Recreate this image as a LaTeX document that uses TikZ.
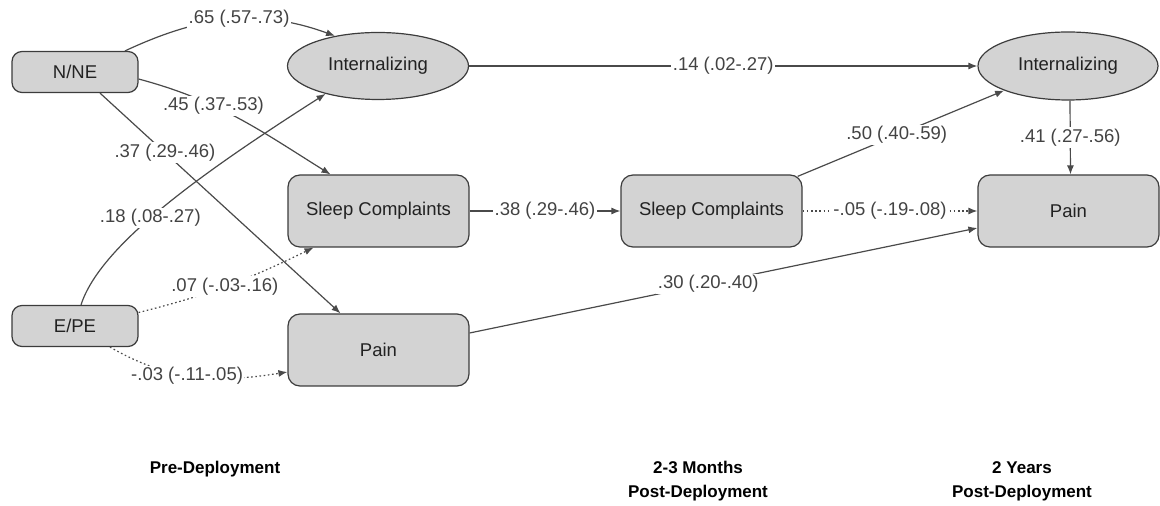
\documentclass[tikz,border=0pt]{standalone}
\usepackage{fontspec}
\setmainfont{Liberation Sans}
\usetikzlibrary{arrows.meta,shapes.geometric}
\definecolor{boxfill}{HTML}{D3D3D3}
\definecolor{boxline}{HTML}{3C3C3C}
\definecolor{edgecol}{HTML}{4A4A4A}
\definecolor{txt}{HTML}{222222}
\begin{document}
\begin{tikzpicture}[x=1pt,y=1pt,
  every node/.style={text=txt},
  smallbox/.style={draw=boxline,fill=boxfill,line width=1.2pt,rounded corners=10pt,minimum width=126pt,minimum height=41pt,inner sep=0pt,font=\fontsize{18.5}{22}\selectfont},
  bigbox/.style={draw=boxline,fill=boxfill,line width=1.2pt,rounded corners=12pt,minimum width=181pt,minimum height=72pt,inner sep=0pt,font=\fontsize{18.5}{22}\selectfont},
  latent/.style={ellipse,draw=boxline,fill=boxfill,line width=1.2pt,minimum width=181pt,minimum height=67pt,inner sep=0pt,font=\fontsize{18.5}{22}\selectfont},
  path/.style={draw=edgecol,line width=1.2pt,-{Latex[length=9pt,width=7pt]}},
  nspath/.style={path,dash pattern=on 1.6pt off 2.6pt},
  lab/.style={fill=white,inner sep=1.5pt,font=\fontsize{18.5}{22}\selectfont,text=txt!85!white},
  period/.style={font=\bfseries\fontsize{17}{24}\selectfont,align=center,text=black}
]
\useasboundingbox (0,0) rectangle (1160,506);
% nodes
\node[smallbox] (nne) at (75,434) {N/NE};
\node[smallbox] (epe) at (75,180) {E/PE};
\node[latent] (int1) at (378,440) {Internalizing};
\node[bigbox] (sl1) at (378.5,295) {Sleep Complaints};
\node[bigbox] (pain1) at (378.5,156) {Pain};
\node[bigbox] (sl2) at (711.5,295) {Sleep Complaints};
\node[latent, minimum width=180pt, minimum height=68pt] (int2) at (1068,440) {Internalizing};
\node[bigbox] (pain2) at (1068.5,295) {Pain};
% period labels
\node[period] (pre) at (215,37) {Pre-Deployment};
\node[period] (post1) at (698,25) {2-3 Months\\Post-Deployment};
\node[period] (post2) at (1022,25) {2 Years\\Post-Deployment};
% paths
\draw[path] ([xshift=50pt]nne.north) to[out=25,in=160] node[lab,pos=0.55] {.65 (.57-.73)} (int1.145);
\draw[path] ([yshift=-7pt]nne.east) to[out=-15,in=148] node[lab,pos=0.36] {.45 (.37-.53)} ([xshift=-48pt]sl1.north);
\draw[path] ([xshift=6pt]epe.north) .. controls +(19,59) and +(-127,-81) .. node[lab,pos=0.45] {.18 (.08-.27)} (int1.208);
\draw[path] ([xshift=25pt]nne.south) -- node[lab,pos=0.27] {.37 (.29-.46)} ([xshift=-38pt]pain1.north);
\draw[nspath] (epe.12) to[out=14,in=206] node[lab,pos=0.48] {.07 (-.03-.16)} ([xshift=-65pt]sl1.south);
\draw[nspath] ([xshift=35pt]epe.south) to[out=-30,in=189] node[lab,pos=0.45] {-.03 (-.11-.05)} ([yshift=-22pt]pain1.west);
\draw[path] (int1.east) -- node[lab] {.14 (.02-.27)} (int2.west);
\draw[path] (sl1.east) -- node[lab] {.38 (.29-.46)} (sl2.west);
\draw[path] ([xshift=-5pt,yshift=-2pt]sl2.north east) -- node[lab,pos=0.48] {.50 (.40-.59)} (int2.201);
\draw[nspath] (sl2.east) -- node[lab] {-.05 (-.19-.08)} (pain2.west);
\draw[path] ([xshift=2pt]int2.south) -- node[lab] {.41 (.27-.56)} ([xshift=2pt]pain2.north);
\draw[path] ([yshift=17pt]pain1.east) -- node[lab,pos=0.47] {.30 (.20-.40)} ([yshift=-17pt]pain2.west);
\end{tikzpicture}
\end{document}
